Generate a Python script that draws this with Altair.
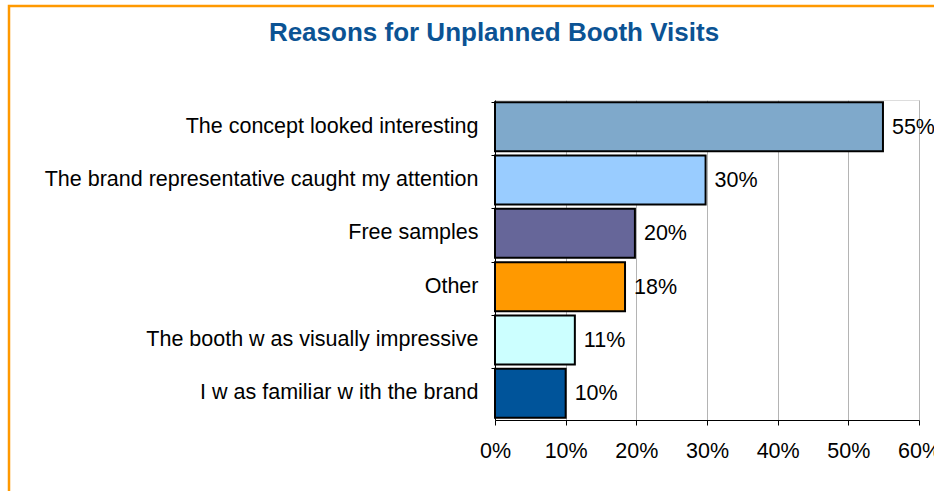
import altair as alt
import pandas as pd

reasons = [
    "The concept looked interesting",
    "The brand representative caught my attention",
    "Free samples",
    "Other",
    "The booth w as visually impressive",
    "I w as familiar w ith the brand",
]
shares = [0.549, 0.298, 0.198, 0.184, 0.113, 0.100]
colors = ["#7FA9CB", "#99CCFF", "#666699", "#FF9900", "#CCFFFF", "#00549A"]
ticks = [0, 0.1, 0.2, 0.3, 0.4, 0.5, 0.6]

df = pd.DataFrame({"reason": reasons, "share": shares, "color": colors})

FONT = "Liberation Sans"
W, H = 424, 320

y_enc = alt.Y(
    "reason:N",
    sort=reasons,
    scale=alt.Scale(paddingInner=0.08, paddingOuter=0.04),
    axis=alt.Axis(
        title=None,
        labelFont=FONT,
        labelFontSize=21.5,
        labelColor="#000000",
        labelPadding=13,
        labelLimit=600,
        tickSize=4,
        tickColor="#000000",
        domainColor="#000000",
        bandPosition=0,
        grid=False,
    ),
)

x_enc = alt.X(
    "share:Q",
    scale=alt.Scale(domain=[0, 0.6], nice=False),
    axis=alt.Axis(
        title=None,
        format=".0%",
        values=ticks,
        labelFont=FONT,
        labelFontSize=21.5,
        labelColor="#000000",
        labelPadding=15,
        labelFlush=False,
        labelOverlap=False,
        tickSize=5,
        tickColor="#000000",
        domainColor="#000000",
        grid=True,
        gridColor="#B4B4B4",
        gridWidth=1,
    ),
)

bars = alt.Chart(df).mark_bar(stroke="#000000", strokeWidth=2).encode(
    y=y_enc,
    x=x_enc,
    fill=alt.Fill("color:N", scale=None),
)

labels = alt.Chart(df).mark_text(
    align="left", baseline="middle", dx=9, dy=1, font=FONT, fontSize=21.5, color="#000000"
).encode(
    y=alt.Y("reason:N", sort=reasons),
    x="share:Q",
    text=alt.Text("share:Q", format=".0%"),
)

frame = alt.Chart(pd.DataFrame({"a": [0]})).mark_rect(
    fill=None, stroke="#FF9900", strokeWidth=2.5
).encode(
    x=alt.value(-486), x2=alt.value(W + 200),
    y=alt.value(-94), y2=alt.value(H + 200),
)

chart = (
    alt.layer(frame, bars, labels)
    .properties(
        width=W,
        height=H,
        autosize="none",
        padding={"left": 495, "top": 100, "right": 15, "bottom": 71},
        title=alt.TitleParams(
            "Reasons for Unplanned Booth Visits",
            font=FONT,
            fontSize=26,
            fontWeight="bold",
            color="#0B5394",
            anchor="middle",
            frame="group",
            baseline="alphabetic",
            dx=-213,
            dy=62,
            offset=0,
        ),
    )
    .configure_view(stroke=None)
    .configure(background="#FFFFFF")
)

chart.save("out.html", embed_options={"renderer": "svg", "actions": False})
